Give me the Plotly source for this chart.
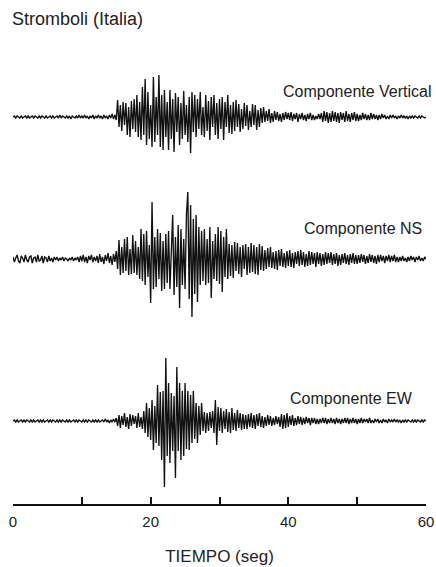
import numpy as np
import plotly.graph_objects as go

vertical = [
    0, 1, -1, 1, 0, -1, 1, -1, 0, 1, -1, 1, -1, 0, 1, -1, 1, 0, -1, 1, -1, 1, 0, -1, 1,
    -1, 0, 1, -1, 1, -1, 0, 1, -1, 2, -1, 1, 0, -1, 1, -1, 1, -2, 1, 0, -1, 1, -1, 2, -1,
    1, -1, 2, -1, 1, -2, 1, -1, 2, -2, 1, -1, 2, -1, 1, -2, 2, -1, 1, -2, 2, -1, 3, -2, 2,
    -3, 17, -10, 12, -14, 15, -8, 14, -18, 10, -20, 16, -12, 18, -15, 22, -20, 15, -23, 30, -18, 38, -28, 25, -22,
    12, -30, 40, -25, 20, -18, 42, -30, 22, -33, 27, -20, 15, -33, 27, -22, 18, -35, 24, -15, 20, -28, 14, -22, 26,
    -18, 12, -25, 20, -36, 25, -15, 22, -20, 18, -12, 25, -18, 10, -20, 22, -14, 16, -23, 20, -10, 22, -18, 14, -22,
    18, -12, 20, -23, 15, -10, 22, -16, 12, -17, 15, -14, 17, -10, 13, -15, 8, -12, 14, -9, 12, -13, 6, -10, 13,
    -8, 12, -13, 7, -10, 9, -6, 10, -5, 6, -4, 8, -6, 4, -5, 6, -3, 5, -4, 3, -5, 4, -3, 5, -2,
    4, -3, 5, -4, 3, -2, 4, -5, 3, -2, 4, -3, 2, -4, 3, -2, 4, -3, 2, -3, 1, -2, 3, -2, 4,
    -5, 6, -4, 5, -6, 4, -5, 6, -4, 5, -5, 4, -6, 5, -3, 4, -5, 6, -4, 3, -5, 4, -3, 5, -4,
    3, -4, 2, -3, 4, -2, 3, -3, 2, -3, 4, -2, 3, -2, 2, -3, 2, -2, 3, -1, 2, -2, 1, -2, 2,
    -1, 2, -1, 1, -2, 1, -1, 2, -1, 1, -1, 1, -2, 1, -1, 1, -1, 1, 0, -1, 1, -1, 1, 0, -1,
    0,
]

ns = [
    2, -3, 1, 4, -2, -4, 3, 1, -3, 4, -1, -3, 2, 3, -4, 1, 2, -3, 4, -2, -1, 3, -4, 2, 1,
    -3, 3, -2, 1, -3, 2, -1, 2, -2, 1, -1, 2, -2, 1, 0, -2, 1, -1, 2, -2, 1, -1, 2, -3, 3,
    -2, 4, -3, 2, -4, 3, -1, 4, -3, 2, -2, 3, -4, 5, -3, 2, -5, 4, -2, 6, -4, 3, -6, 5, -3,
    8, -10, 19, -16, 12, -14, 20, -12, 22, -16, 10, -15, 24, -14, 18, -16, 12, -20, 30, -22, 25, -26, 28, -18, 14,
    -44, 57, -30, 22, -28, 30, -20, 26, -32, 18, -30, 25, -24, 28, -30, 20, 44, -36, 22, -28, 34, -49, 30, -26, 20,
    -30, 45, 67, -40, 54, -58, 40, -35, 44, -43, 32, -26, 28, -22, 30, -26, 20, -24, 32, -39, 18, -20, 25, -22, 32,
    -25, 28, -33, 22, -18, 30, -20, 15, -17, 14, -19, 17, -12, 16, -15, 12, -18, 14, -10, 15, -16, 12, -14, 16, -13,
    14, -15, 12, -16, 15, -11, 13, -12, 9, -10, 11, -8, 12, -9, 7, -10, 8, -11, 9, -7, 10, -8, 6, -9, 8,
    -7, 9, -8, 6, -9, 7, -5, 8, -7, 9, -6, 7, -8, 5, -7, 8, -6, 7, -5, 6, -8, 7, -5, 6, -7,
    5, -6, 7, -5, 6, -4, 7, -6, 5, -5, 6, -7, 4, -6, 5, -4, 6, -5, 4, -6, 5, -4, 6, -5, 4,
    -5, 4, -4, 5, -3, 4, -5, 3, -4, 5, -3, 4, -4, 3, -5, 4, -3, 4, -2, 3, -4, 3, -2, 4, -3,
    3, -2, 4, -3, 2, -3, 2, -2, 3, -2, 1, -3, 2, -2, 3, -1, 2, -3, 2, -1, 3, -2, 1, -2, 2,
    0,
]

ew = [
    0, 1, -1, 1, -1, 0, 1, -1, 1, -1, 1, 0, -1, 1, -1, 1, -1, 0, 1, -1, 1, -1, 1, -1, 0,
    1, -1, 1, -1, 1, 0, -1, 1, -1, 1, -1, 1, 0, -1, 1, -1, 1, -1, 0, 1, -1, 1, -1, 1, 0,
    -1, 1, -1, 1, -1, 1, 0, -1, 1, -1, 1, -1, 1, -1, 0, 1, -1, 2, -1, 1, -2, 1, -1, 2, -1,
    3, -5, 6, -7, 5, -4, 8, -6, 4, -8, 7, -5, 6, -3, 5, -7, 8, -6, 4, -8, 10, -12, 18, -16, 13,
    -19, 21, -29, 15, -22, 36, -25, 29, -39, 30, -66, 63, -35, 38, -42, 28, -30, 25, -57, 54, -30, 38, -39, 30, -35,
    38, -28, 30, -29, 26, -22, 30, -18, 18, -22, 15, -14, 18, -10, 9, -12, 8, -10, 9, -7, 10, -12, 21, -24, 14,
    -10, 13, -12, 10, -8, 12, -11, 9, -12, 13, -9, 8, -10, 11, -7, 8, -9, 7, -8, 6, -8, 7, -6, 8, -7,
    6, -8, 7, -5, 8, -6, 5, -7, 4, -5, 6, -4, 5, -5, 3, -4, 5, -3, 4, -6, 7, -8, 6, -7, 8,
    -6, 5, -4, 6, -5, 3, -4, 5, -3, 4, -4, 3, -3, 4, -2, 3, -4, 3, -2, 3, -3, 2, -3, 2, -2,
    3, -2, 3, -3, 2, -2, 3, -2, 2, -3, 3, -2, 2, -3, 2, -2, 3, -2, 3, -3, 2, -2, 3, -2, 2,
    -3, 2, -2, 3, -2, 2, -1, 2, -2, 3, -2, 1, -2, 2, -1, 2, -2, 1, -2, 2, -1, 1, -2, 2, -1,
    1, -1, 2, -1, 1, -1, 1, -2, 1, -1, 1, -1, 1, 0, -1, 1, -1, 1, -1, 1, 0, -1, 1, -1, 1,
    0,
]

components = ["Componente Vertical", "Componente NS", "Componente EW"]
series = [vertical, ns, ew]
tick_values = [0, 10, 20, 30, 40, 50, 60]
tick_labels = ["0", "", "20", "", "40", "", "60"]

T_START, T_END = 0, 60
FONT = "Liberation Sans, Arial, sans-serif"

W, H = 436, 567
ML, MR, MT, MB = 13, 10, 0, 62
plot_h = H - MT - MB
baselines_px = [117, 259, 421]   # vertical centre of each trace (pixels from top)
half_px = 70                     # half-height of each trace band
label_pos = [(434, 91), (424, 229), (415, 398)]

fig = go.Figure()
yaxes = {}
for k, (name, vals) in enumerate(zip(components, series)):
    t = np.linspace(T_START, T_END, len(vals))
    yname = "y" if k == 0 else f"y{k+1}"
    fig.add_trace(go.Scatter(
        x=t, y=vals, mode="lines", xaxis="x", yaxis=yname,
        line=dict(color="#111111", width=1.35), showlegend=False, name=name,
    ))
    c = baselines_px[k]
    dom = [(plot_h - (c - MT + half_px)) / plot_h, (plot_h - (c - MT - half_px)) / plot_h]
    key = "yaxis" if k == 0 else f"yaxis{k+1}"
    yaxes[key] = dict(domain=dom, range=[-half_px, half_px], visible=False,
                      fixedrange=True, anchor="x")
    lx, ly = label_pos[k]
    fig.add_annotation(
        text=name, xref="paper", yref="paper",
        x=(lx - ML) / (W - ML - MR), y=(plot_h - (ly - MT)) / plot_h,
        xanchor="right", yanchor="middle", showarrow=False,
        font=dict(family=FONT, size=16, color="#222222"),
    )

fig.update_layout(
    width=W, height=H,
    margin=dict(l=ML, r=MR, t=MT, b=MB),
    paper_bgcolor="white", plot_bgcolor="white",
    title=dict(text="Stromboli (Italia)", x=12 / W, xanchor="left",
               y=1 - 19 / H, yanchor="middle",
               font=dict(family=FONT, size=18, color="#222222")),
    xaxis=dict(
        range=[T_START, T_END], anchor="free", position=0,
        showline=True, linecolor="#111111", linewidth=2,
        ticks="inside", ticklen=7, tickwidth=2, tickcolor="#111111",
        tickvals=tick_values, ticktext=tick_labels,
        tickfont=dict(family=FONT, size=15, color="#222222"),
        ticklabelstandoff=3,
        showgrid=False, zeroline=False, automargin=False,
        title=dict(text="TIEMPO (seg)", standoff=20,
                   font=dict(family=FONT, size=17, color="#222222")),
    ),
    **yaxes,
)

fig.write_html(
    "out.html",
    config={"displayModeBar": False},
    post_script="document.body.style.margin='0';document.body.style.overflow='hidden';",
)
